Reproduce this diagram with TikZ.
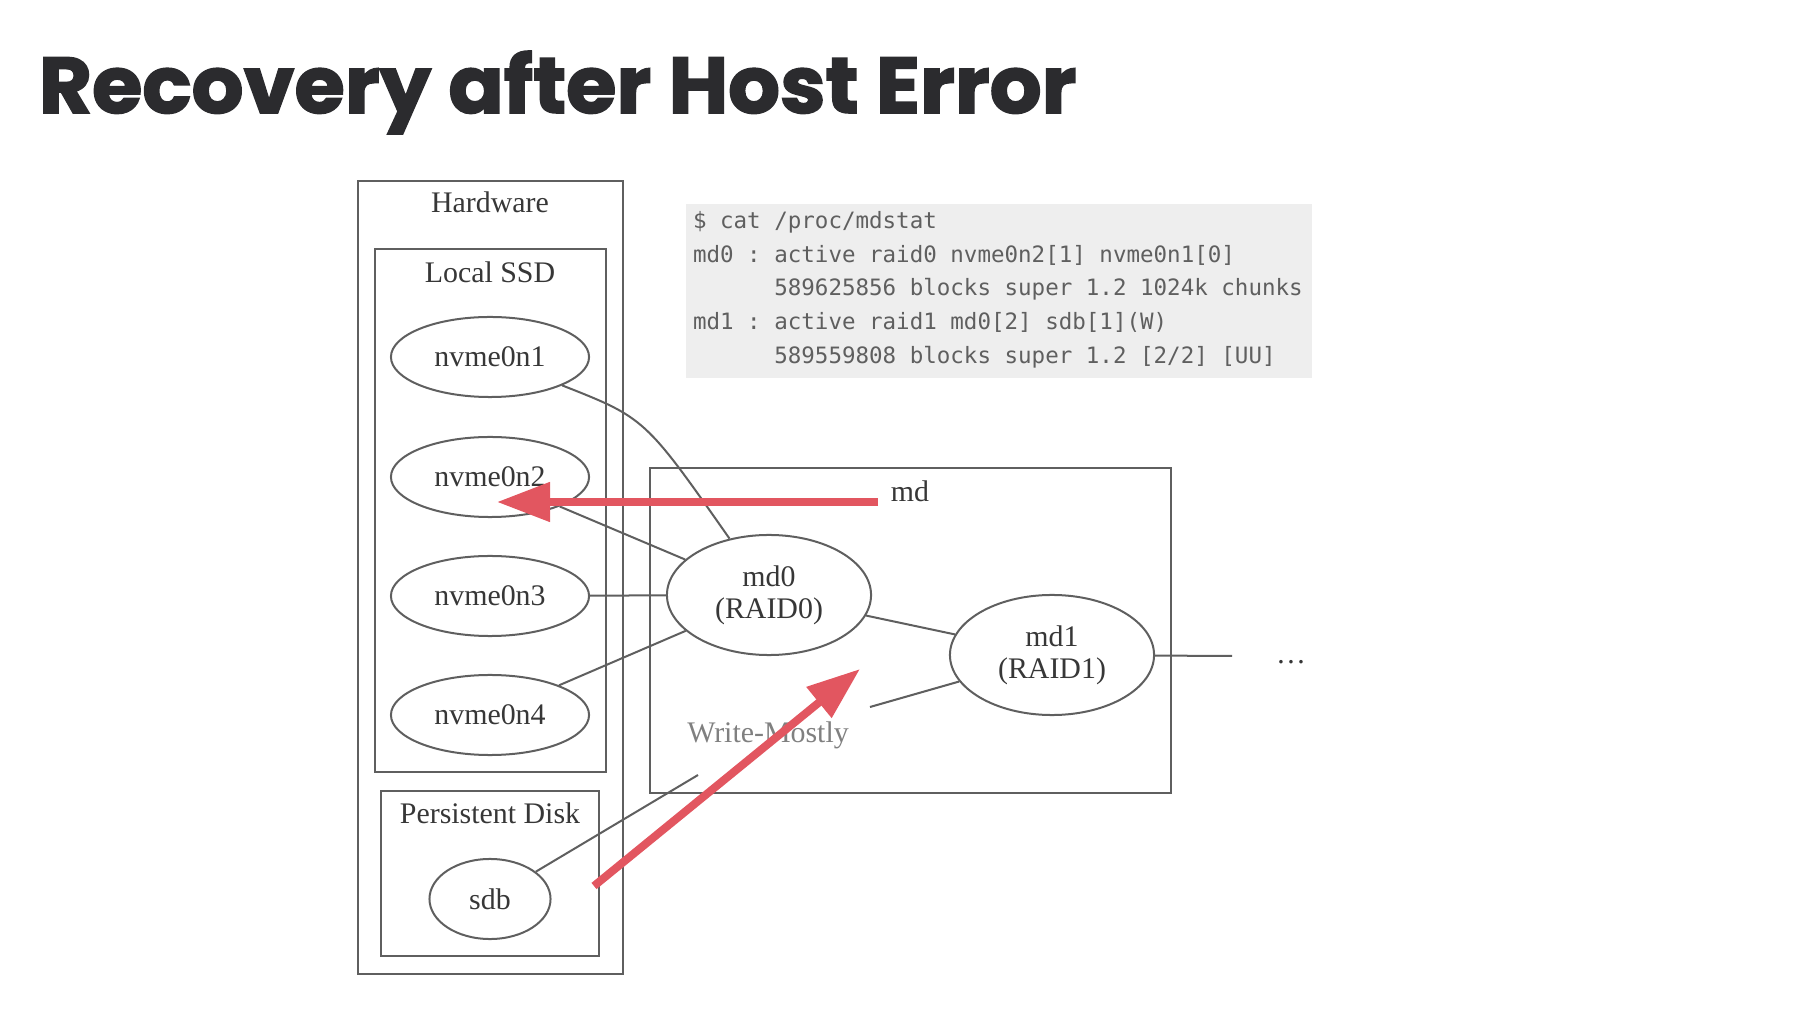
\documentclass[tikz,border=0pt]{standalone}
\usepackage{fontspec}
\setmainfont{Liberation Serif}
\setmonofont{DejaVu Sans Mono}
\newfontfamily\titlefont{Poppins}[BoldFeatures={FakeBold=2}]
\usetikzlibrary{arrows.meta,shapes.geometric}

\definecolor{arrowred}{RGB}{226,86,96}
\definecolor{linegray}{RGB}{95,95,95}
\definecolor{textgray}{RGB}{55,55,55}
\definecolor{codebg}{RGB}{238,238,238}
\definecolor{codegray}{RGB}{95,95,95}
\definecolor{titlegray}{RGB}{43,43,46}

\begin{document}
\begin{tikzpicture}[x=0.01cm, y=-0.01cm, line width=0.2mm,
    every node/.style={text=textgray, font=\fontsize{8.5pt}{9.1pt}\selectfont},
    cluster/.style={draw=linegray},
    redarrow/.style={draw=arrowred, line width=0.8mm,
      -{Triangle[length=5.3mm, width=3.8mm]}}]

  \useasboundingbox (0,0) rectangle (1800,1028);

  % title
  \node[anchor=base west, inner sep=0, text=titlegray,
    font=\titlefont\bfseries\fontsize{22.5pt}{27pt}\selectfont]
    (title) at (38,113) {\scalebox{1.03}[1]{Recovery after Host Error}};

  % clusters
  \draw[cluster] (358,181) rectangle (623,974);
  \draw[cluster] (375,249) rectangle (606,772);
  \draw[cluster] (381,791) rectangle (599,956);
  \draw[cluster] (650,468) rectangle (1171,793);

  \node[anchor=base] (hw)   at (490,213) {Hardware};
  \node[anchor=base] (ssd)  at (490,283) {Local SSD};
  \node[anchor=base] (pd)   at (490,823) {Persistent Disk};
  \node[anchor=base] (mdl)  at (910,502) {md};

  % mdstat output
  \fill[codebg] (686,204) rectangle (1312,378);
  \begin{scope}[every node/.style={anchor=base west, inner sep=0, text=codegray,
      font=\ttfamily\fontsize{6.4pt}{7pt}\selectfont}]
    \node (l1) at (692,229) {\$ cat /proc/mdstat};
    \node (l2) at (692,263) {md0 : active raid0 nvme0n2[1] nvme0n1[0]};
    \node (l3) at (692,296) {\phantom{md0 : }589625856 blocks super 1.2 1024k chunks};
    \node (l4) at (692,330) {md1 : active raid1 md0[2] sdb[1](W)};
    \node (l5) at (692,364) {\phantom{md1 : }589559808 blocks super 1.2 [2/2] [UU]};
  \end{scope}

  % devices
  \begin{scope}[every node/.style={ellipse, draw=linegray, inner sep=0,
      minimum width=19.8mm, minimum height=8mm, text=textgray,
      font=\fontsize{8.5pt}{9.1pt}\selectfont, align=center}]
    \node (n1)  at (490,357) {nvme0n1};
    \node (n2)  at (490,477) {nvme0n2};
    \node (n3)  at (490,596) {nvme0n3};
    \node (n4)  at (490,715) {nvme0n4};
    \node[minimum width=12.1mm] (sdb) at (490,899) {sdb};
    \node[minimum width=20.4mm, minimum height=12mm] (md0) at (769,595) {md0\\(RAID0)};
    \node[minimum width=20.4mm, minimum height=12mm] (md1) at (1052,655) {md1\\(RAID1)};
  \end{scope}

  \coordinate (wm1) at (698,775);
  \coordinate (wm2) at (870,707);
  \coordinate (out) at (1232,656);
  \node[anchor=base] (dots) at (1291,663) {\dots};
  \node[anchor=base, text=gray] (wm) at (768,742) {Write-Mostly};

  % edges
  \begin{scope}[linegray]
    \draw (n1) .. controls (645,418) .. (md0);
    \draw (n2) -- (md0);
    \draw (n3) -- (md0);
    \draw (n4) -- (md0);
    \draw (md0) -- (md1);
    \draw (sdb) -- (wm1);
    \draw (wm2) -- (md1);
    \draw (md1) -- (out);
  \end{scope}

  % recovery arrows
  \coordinate (a1) at (878,502);
  \coordinate (a2) at (497,502);
  \coordinate (b1) at (594,886);
  \coordinate (b2) at (860,669);
  \draw[redarrow] (a1) -- (a2);
  \draw[redarrow] (b1) -- (b2);

\end{tikzpicture}
\end{document}
